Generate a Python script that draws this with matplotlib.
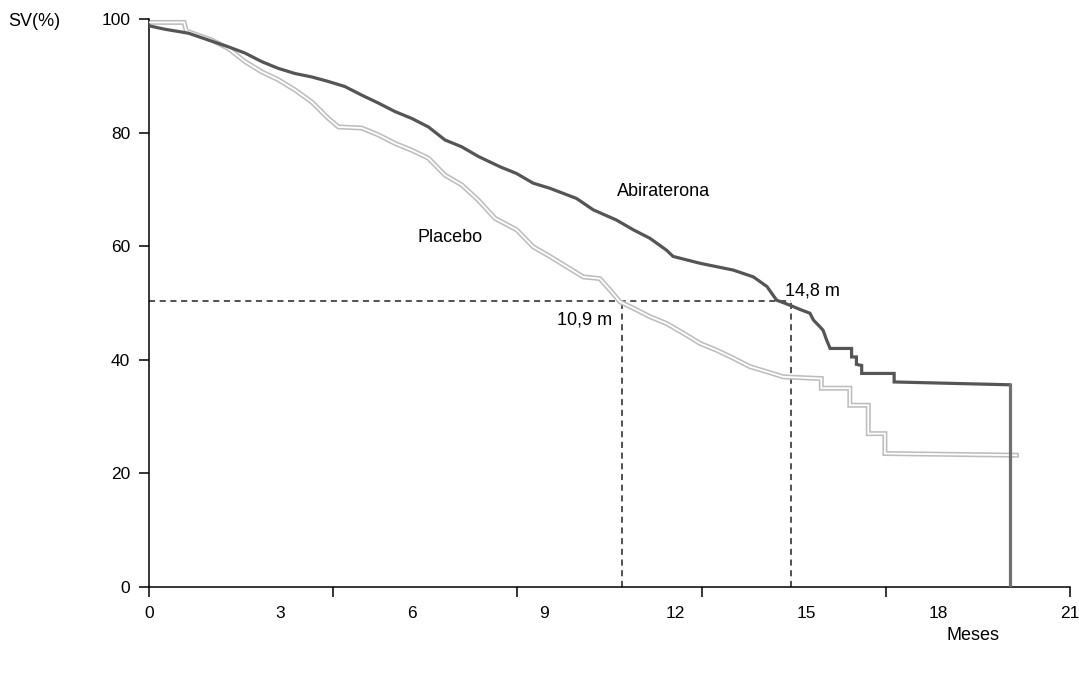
import matplotlib
matplotlib.use("Agg")
import matplotlib.pyplot as plt
import numpy as np

plt.rcParams['font.family'] = ['Liberation Sans', 'DejaVu Sans']

# ---- data (curve vertices, step corners included) ----
abi_t = [0, 0.36, 0.90, 1.43, 1.81, 2.19, 2.57, 2.95, 3.33, 3.71, 4.09, 4.47, 4.85,
         5.23, 5.61, 5.99, 6.37, 6.75, 7.13, 7.51, 8.00, 8.38, 8.76, 9.14, 9.75,
         10.13, 10.66, 11.04, 11.42, 11.80, 11.95, 12.56, 13.32, 13.78, 14.09,
         14.31, 14.62, 14.80, 15.07, 15.15, 15.30, 15.37, 15.45, 15.53, 16.02,
         16.02, 16.13, 16.13, 16.25, 16.25, 16.99, 16.99, 19.63]
abi_s = [98.8, 98.2, 97.5, 96.1, 95.1, 94.0, 92.5, 91.3, 90.4, 89.8, 89.0, 88.1, 86.6,
         85.2, 83.7, 82.5, 81.0, 78.7, 77.5, 75.8, 74.0, 72.8, 71.1, 70.2, 68.4,
         66.4, 64.6, 62.9, 61.4, 59.3, 58.2, 57.0, 55.8, 54.6, 52.9,
         50.5, 49.6, 49.0, 48.2, 47.0, 45.8, 45.2, 43.5, 42.0, 42.0,
         40.5, 40.5, 39.2, 39.0, 37.6, 37.6, 36.1, 35.6]
abi_end_t = [19.63, 19.63]
abi_end_s = [35.6, 0.0]

pla_t = [0, 0.80, 0.85, 1.43, 1.81, 2.19, 2.57, 2.95, 3.33, 3.71, 4.09, 4.32, 4.85, 5.23,
         5.61, 5.99, 6.37, 6.75, 7.13, 7.51, 7.89, 8.38, 8.76, 9.14, 9.52, 9.90,
         10.28, 10.51, 10.74, 11.04, 11.42, 11.80, 12.18, 12.56, 12.94, 13.32,
         13.70, 14.09, 14.46, 15.33, 15.33, 15.98, 15.98, 16.40, 16.40, 16.78,
         16.78, 19.78]
pla_s = [99.4, 99.4, 97.9, 96.3, 94.8, 92.5, 90.7, 89.3, 87.5, 85.4, 82.5, 81.0, 80.8, 79.6,
         78.1, 76.9, 75.5, 72.5, 70.8, 68.1, 64.9, 62.9, 59.9, 58.2, 56.4, 54.6,
         54.3, 52.3, 50.2, 49.1, 47.6, 46.4, 44.7, 42.9, 41.7, 40.3,
         38.8, 37.9, 37.0, 36.7, 35.0, 35.0, 32.0, 32.0, 27.0, 27.0,
         23.5, 23.2]

median_s = 50.3
median_pla = 10.78
median_abi = 14.63

x_labels = [0, 3, 6, 9, 12, 15, 18, 21]
x_major = list(np.linspace(0, 21, 6))
y_ticks = [0, 20, 40, 60, 80, 100]

# ---- figure ----
fig = plt.figure(figsize=(10.79, 6.75), dpi=100)
ax = fig.add_axes([149/1079, 1-587/675, (1070-149)/1079, (587-19)/675])

# median dashed guides
dash = (0, (4, 3))
ax.plot([0, median_abi], [median_s, median_s], color='#222222', lw=1.1, ls=dash, zorder=1)
ax.plot([median_pla, median_pla], [0, median_s], color='#222222', lw=1.1, ls=dash, zorder=1)
ax.plot([median_abi, median_abi], [0, median_s], color='#222222', lw=1.1, ls=dash, zorder=1)

# placebo: double (outlined) line
ax.plot(pla_t, pla_s, color='#bdbdbd', lw=3.6, solid_joinstyle='miter', zorder=2)
ax.plot(pla_t, pla_s, color='white', lw=1.3, solid_joinstyle='miter', zorder=3)

# abiraterone: dark line
ax.plot(abi_t, abi_s, color='#555555', lw=2.3, solid_joinstyle='miter', zorder=4)
ax.plot(abi_end_t, abi_end_s, color='#707070', lw=2.3, solid_joinstyle='miter', zorder=4)

# annotations
ax.text(11.74, 69.7, 'Abiraterona', fontsize=13, ha='center', va='center')
ax.text(6.86, 61.6, 'Placebo', fontsize=13, ha='center', va='center')
ax.text(9.94, 47.0, '10,9 m', fontsize=13, ha='center', va='center')
ax.text(15.12, 52.1, '14,8 m', fontsize=13, ha='center', va='center')

# axes styling
ax.set_xlim(0, 21)
ax.set_ylim(0, 100)
for s in ['top', 'right']:
    ax.spines[s].set_visible(False)
for s in ['left', 'bottom']:
    ax.spines[s].set_linewidth(1.1)
    ax.spines[s].set_color('black')

ax.xaxis.remove_overlapping_locs = False
ax.set_xticks(x_major)
ax.set_xticklabels([])
ax.set_xticks(x_labels, minor=True)
ax.set_xticklabels([str(v) for v in x_labels], minor=True)
ax.tick_params(axis='x', which='major', direction='out', length=7.5, width=1.1)
ax.tick_params(axis='x', which='minor', length=0, pad=14, labelsize=12.5)

ax.set_yticks(y_ticks)
ax.set_yticklabels([str(v) for v in y_ticks])
ax.tick_params(axis='y', direction='out', length=7.5, width=1.1, pad=6, labelsize=12.5)

fig.text(34/1079, 1-22/675, 'SV(%)', fontsize=13, ha='center', va='center')
fig.text(973/1079, 1-636/675, 'Meses', fontsize=13, ha='center', va='center')

fig.savefig('out.png', dpi=100)
